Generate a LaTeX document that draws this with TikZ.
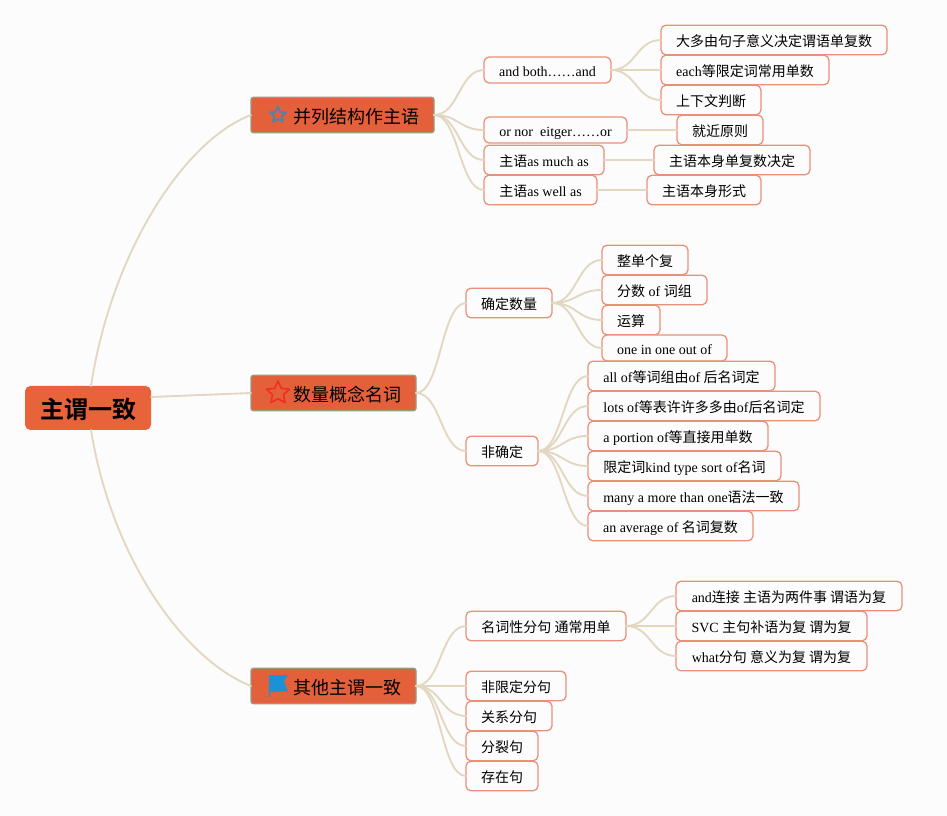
\documentclass[tikz,border=0pt]{standalone}
\usepackage{fontspec}
\setmainfont{Liberation Serif}
\newfontfamily\cjk{Noto Sans CJK SC}
\newfontfamily\cjkb{Noto Sans CJK SC Bold}
\newcommand\zh[1]{{\cjk #1}}
\usetikzlibrary{shapes.geometric,calc}
\definecolor{bgc}{HTML}{FCFCFC}
\definecolor{linec}{HTML}{E2D8C2}
\definecolor{leafb}{HTML}{EB9078}
\definecolor{mainf}{HTML}{E4603A}
\definecolor{mainb}{HTML}{9A9A7C}
\definecolor{rootf}{HTML}{E8623A}
\definecolor{staricona}{HTML}{5880A5}
\definecolor{stariconb}{HTML}{EE301E}
\definecolor{flagc}{HTML}{1C92D6}
\tikzset{
  x=0.75pt,y=-0.75pt,
  boxbase/.style={anchor=west,inner sep=0pt,outer sep=0pt,text=black},
  leaf/.style={boxbase,draw=leafb,fill=bgc,line width=0.95pt,rounded corners=3.75pt,minimum height=22.2pt,text height=10.2pt,text depth=1pt,font=\fontsize{10.5}{12}\selectfont},
  mainnode/.style={boxbase,draw=mainb,fill=mainf,line width=1pt,rounded corners=1.8pt,minimum height=26.5pt,font=\fontsize{13.5}{16}\selectfont},
  rootnode/.style={boxbase,fill=rootf,rounded corners=4pt,minimum height=33pt,text height=18pt,text depth=2pt,font=\fontsize{18}{20}\selectfont},
  link/.style={draw=linec,line width=1.4pt,line cap=round},
  staricon/.style={star,star points=5,star point ratio=2.1,fill=none,inner sep=0pt,line join=round},
}
\newcommand\leafbox[5]{\node[leaf,minimum width={(#3-#2)*0.75pt}] (#1) at (#2,#4) {#5};}
\begin{document}
\begin{tikzpicture}
\useasboundingbox (0,0) rectangle (947,816);
\fill[bgc] (0,0) rectangle (947,816);

\node[rootnode,minimum width=94.5pt] (root) at (25,408) {\hspace{1.2pt}\cjkb 主谓一致};
\node[mainnode,minimum width=137.25pt] (m1) at (251,115) {};
\node[mainnode,minimum width=123.75pt] (m2) at (251,393) {};
\node[mainnode,minimum width=123.75pt] (m3) at (251,686) {};
\node[boxbase,font=\fontsize{13.5}{16}\selectfont\cjk] (m1t) at (293,116.5) {并列结构作主语};
\node[boxbase,font=\fontsize{13.5}{16}\selectfont\cjk] (m2t) at (293,394.5) {数量概念名词};
\node[boxbase,font=\fontsize{13.5}{16}\selectfont\cjk] (m3t) at (293,687.5) {其他主谓一致};
\node[staricon,draw=staricona,line width=1.5pt,minimum size=12.5pt] (i1) at (278,115) {};
\node[staricon,draw=stariconb,line width=1.2pt,minimum size=18pt] (i2) at (278,393) {};
\fill[flagc] (269,675) -- (288,675) -- (284,681) -- (288,692) .. controls (280,690) and (276,693) .. (270,692) -- (270,697) -- (269,697) -- cycle;

% first branch
\node[leaf,minimum width=95.25pt,minimum height=19.5pt] (a1) at (484,70) {and both……and};
\node[leaf,minimum width=107.25pt,minimum height=19.5pt] (a2) at (484,130) {or nor\ \ eitger……or};
\leafbox{a3}{484}{604}{160}{\zh{主语}as much as}
\leafbox{a4}{484}{597}{190}{\zh{主语}as well as}
\leafbox{b1}{661}{887}{40}{\zh{大多由句子意义决定谓语单复数}}
\leafbox{b2}{661}{829}{70}{each\zh{等限定词常用单数}}
\leafbox{b3}{661}{761}{100}{\zh{上下文判断}}
\leafbox{b4}{677}{763}{130}{\zh{就近原则}}
\leafbox{b5}{654}{810}{160}{\zh{主语本身单复数决定}}
\leafbox{b6}{647}{761}{190}{\zh{主语本身形式}}

% second branch
\leafbox{c1}{466}{552}{303}{\zh{确定数量}}
\leafbox{c2}{466}{538}{451}{\zh{非确定}}
\leafbox{d1}{602}{688}{260}{\zh{整单个复}}
\leafbox{d2}{602}{707}{290}{\zh{分数} of \zh{词组}}
\leafbox{d3}{602}{660}{320}{\zh{运算}}
\node[leaf,minimum width=93.75pt,minimum height=19.5pt] (d4) at (602,348) {one in one out of};
\leafbox{e1}{588}{775}{376}{all of\zh{等词组由}of \zh{后名词定}}
\leafbox{e2}{588}{820}{406}{lots of\zh{等表许许多多由}of\zh{后名词定}}
\leafbox{e3}{588}{768}{436}{a portion of\zh{等直接用单数}}
\leafbox{e4}{588}{781}{466}{\zh{限定词}kind type sort of\zh{名词}}
\leafbox{e5}{588}{799}{496}{many a more than one\zh{语法一致}}
\leafbox{e6}{588}{753}{526}{an average of \zh{名词复数}}

% third branch
\leafbox{f1}{466}{626}{626}{\zh{名词性分句 通常用单}}
\leafbox{f2}{466}{566}{686}{\zh{非限定分句}}
\leafbox{f3}{466}{552}{716}{\zh{关系分句}}
\leafbox{f4}{466}{538}{746}{\zh{分裂句}}
\leafbox{f5}{466}{538}{776}{\zh{存在句}}
\leafbox{g1}{676}{902}{596}{and\zh{连接 主语为两件事 谓语为复}}
\leafbox{g2}{676}{867}{626}{SVC \zh{主句补语为复 谓为复}}
\leafbox{g3}{676}{867}{656}{what\zh{分句 意义为复 谓为复}}

% connectors from the root
\draw[link] ([xshift=2.25pt]root.north) .. controls (112,250) and (185,140) .. (m1.west);
\draw[link] ([yshift=8.25pt]root.east) -- (m2.west);
\draw[link] ([xshift=2.25pt]root.south) .. controls (112,560) and (185,660) .. (m3.west);

% connectors
\foreach \p/\c in {m1/a1,m1/a2,m1/a3,m1/a4,a1/b1,a1/b2,a1/b3,
  m2/c1,m2/c2,c1/d1,c1/d2,c1/d3,c1/d4,c2/e1,c2/e2,c2/e3,c2/e4,c2/e5,c2/e6,
  m3/f1,m3/f2,m3/f3,m3/f4,m3/f5,f1/g1,f1/g2,f1/g3}{
  \coordinate (mid) at ($(\p.east)!0.5!(\c.west)$);
  \draw[link] (\p.east) .. controls (mid |- \p.east) and (mid |- \c.west) .. (\c.west);
}
\foreach \p/\c in {a2/b4,a3/b5,a4/b6}
  \draw[link] (\p.east) -- (\c.west);
\end{tikzpicture}
\end{document}
